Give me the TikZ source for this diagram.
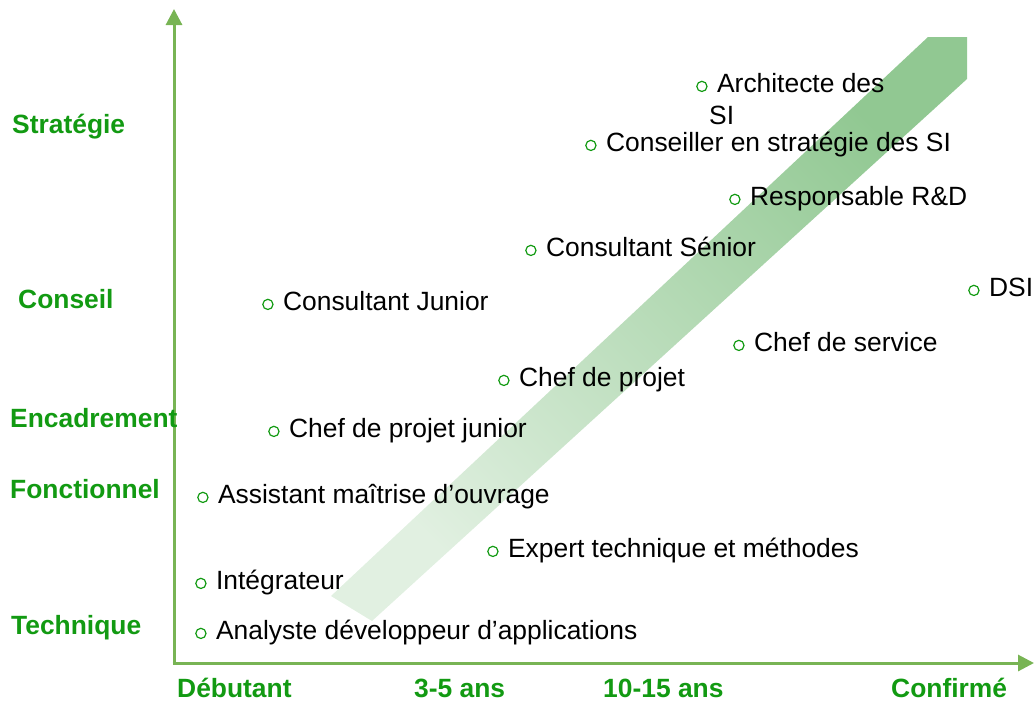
\documentclass[tikz,border=0pt]{standalone}
\usepackage{fontspec}
\setmainfont{Liberation Sans}
\usetikzlibrary{arrows.meta}
\definecolor{labgreen}{RGB}{18,154,18}
\definecolor{axisgreen}{RGB}{120,180,84}
\definecolor{bandtop}{RGB}{145,200,146}
\definecolor{bandbot}{RGB}{225,240,225}
\newcommand\bul{\tikz[baseline=0pt]\draw[labgreen,line width=1.2pt] (0pt,5.6pt) circle[radius=5.1pt];\hspace{9.5pt}}
\begin{document}
\begin{tikzpicture}[x=1pt,y=-1pt,
  item/.style={anchor=base west,inner sep=0pt,font=\fontsize{26.4}{30}\selectfont,text=black},
  cat/.style={anchor=base west,inner sep=0pt,font=\fontsize{26.4}{30}\selectfont\bfseries,text=labgreen},
  axisline/.style={draw=axisgreen,line width=3pt,-{Triangle[width=16pt,length=16pt]}}]
\useasboundingbox (0,0) rectangle (1034,702);
% big arrow band
\shade[top color=bandtop,bottom color=bandbot,shading angle=-45]
  (331,596) -- (928,37) -- (967,37) -- (967,79) -- (372,621) -- cycle;
% axes
\coordinate (origin) at (174,663);
\coordinate (ytip) at (174,9);
\coordinate (xtip) at (1034,663);
\draw[axisline] ([yshift=-1.5pt]origin) -- (ytip);
\draw[axisline] ([xshift=-1.5pt]origin) -- (xtip);
% categories
\node[cat] (strat) at (12,133) {Stratégie};
\node[cat] (conseil) at (18,308) {Conseil};
\node[cat] (encad) at (10,427) {Encadrement};
\node[cat] (fonct) at (10,498) {Fonctionnel};
\node[cat] (tech) at (11,634) {Technique};
% experience
\node[cat] (deb) at (177,697) {Débutant};
\node[cat] (y35) at (414,697) {3-5 ans};
\node[cat] (y1015) at (603,697) {10-15 ans};
\node[cat] (conf) at (891,697) {Confirmé};
% items
\node[item] (archi) at (696,92) {\bul Architecte des};
\node[item] (archi2) at (709,124) {SI};
\node[item] (conseiller) at (585,151) {\bul Conseiller en stratégie des SI};
\node[item] (resp) at (729,205) {\bul Responsable R\&D};
\node[item] (csenior) at (525,256) {\bul Consultant Sénior};
\node[item] (cjunior) at (262,310) {\bul Consultant Junior};
\node[item] (dsi) at (968,296) {\bul DSI};
\node[item] (chefserv) at (733,351) {\bul Chef de service};
\node[item] (chefproj) at (498,386) {\bul Chef de projet};
\node[item] (chefjun) at (268,437) {\bul Chef de projet junior};
\node[item] (assist) at (197,503) {\bul Assistant maîtrise d’ouvrage};
\node[item] (expert) at (487,557) {\bul Expert technique et méthodes};
\node[item] (integ) at (195,589) {\bul Intégrateur};
\node[item] (analyste) at (195,639) {\bul Analyste développeur d’applications};
\end{tikzpicture}
\end{document}
